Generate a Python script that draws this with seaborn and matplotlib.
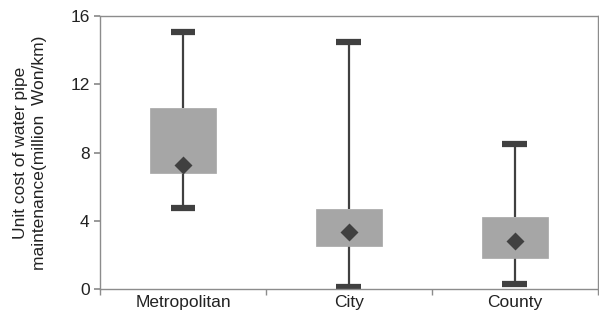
import matplotlib

matplotlib.use("Agg")
import matplotlib.pyplot as plt
import numpy as np
import pandas as pd
import seaborn as sns
from matplotlib.ticker import FixedLocator

categories = ["Metropolitan", "City", "County"]
mins = [4.75, 0.15, 0.3]
q1 = [6.8, 2.5, 1.85]
q3 = [10.6, 4.7, 4.2]
maxs = [15.05, 14.5, 8.5]
means = [7.3, 3.35, 2.8]

y_ticks = [0, 4, 8, 12, 16]

sns.set_theme(style="ticks")
plt.rcParams["font.family"] = ["Liberation Sans", "DejaVu Sans"]

# five-number rows per group, so the box spans q1..q3 and the whiskers min..max
rows = []
for cat, lo, a, b, hi, m in zip(categories, mins, q1, q3, maxs, means):
    for v in (lo, a, m, b, hi):
        rows.append({"group": cat, "cost": v})
frame = pd.DataFrame(rows)

fig = plt.figure(figsize=(5.99, 3.23), dpi=100)
ax = fig.add_axes([0.167, 0.105, 0.831, 0.845])

dark = "#404040"
box_grey = "#a6a6a6"
sns.boxplot(
    data=frame, x="group", y="cost", order=categories, ax=ax,
    color=box_grey, saturation=1, width=0.4, whis=(0, 100), showfliers=False,
    capwidths=0.15,
    boxprops=dict(facecolor=box_grey, edgecolor=box_grey, linewidth=0.5, zorder=3),
    whiskerprops=dict(color=dark, linewidth=1.6),
    capprops=dict(color=dark, linewidth=4.5, solid_capstyle="butt"),
    medianprops=dict(visible=False),
)
sns.pointplot(
    x=categories, y=means, order=categories, ax=ax, color=dark,
    linestyle="none", markers="D", markersize=7.5, errorbar=None,
)
for coll in ax.collections + ax.lines[-3:]:
    coll.set_zorder(5)

ax.set_ylim(0, 16)
ax.set_yticks(y_ticks)
ax.set_xlim(-0.5, 2.5)
ax.set_xlabel("")
ax.set_ylabel("Unit cost of water pipe\nmaintenance(million  Won/km)", fontsize=12.5, color="#222222",
              labelpad=17, linespacing=1.3)
ax.tick_params(axis="y", labelsize=12.5, length=4, color="#8c8c8c", labelcolor="#222222")
ax.tick_params(axis="x", which="major", labelsize=12.5, length=0, labelcolor="#222222", pad=4)
ax.xaxis.set_minor_locator(FixedLocator([-0.5, 0.5, 1.5, 2.5]))
ax.tick_params(axis="x", which="minor", length=4, color="#8c8c8c")
for side in ["left", "bottom", "top", "right"]:
    ax.spines[side].set_visible(True)
    ax.spines[side].set_color("#8c8c8c")
    ax.spines[side].set_linewidth(1.0)

fig.savefig("out.png", dpi=100)
